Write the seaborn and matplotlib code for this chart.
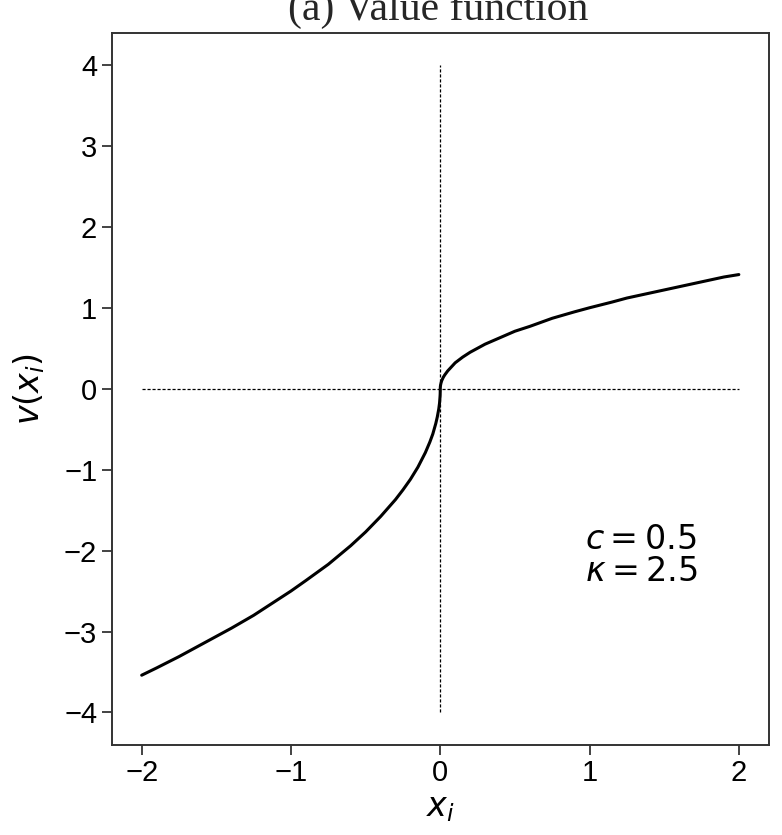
import matplotlib
matplotlib.use("Agg")
import matplotlib.pyplot as plt
import seaborn as sns
import pandas as pd

# value function (gains side and losses side)
x_gain = [0.0, 0.0005, 0.001, 0.002, 0.005, 0.01, 0.02, 0.03, 0.05, 0.07, 0.1, 0.15, 0.2, 0.25, 0.3, 0.4,
          0.5, 0.6, 0.75, 0.9, 1.0, 1.15, 1.25, 1.4, 1.5, 1.65, 1.75, 1.9, 2.0]
v_gain = [0.0, 0.02, 0.03, 0.045, 0.07, 0.10, 0.14, 0.17, 0.22, 0.26, 0.32, 0.39, 0.45, 0.50, 0.55, 0.63,
          0.71, 0.77, 0.87, 0.95, 1.0, 1.07, 1.12, 1.18, 1.22, 1.28, 1.32, 1.38, 1.41]
x_loss = [-2.0, -1.9, -1.75, -1.65, -1.5, -1.4, -1.25, -1.15, -1.0, -0.9, -0.75, -0.6, -0.5, -0.4, -0.3,
          -0.25, -0.2, -0.15, -0.1, -0.07, -0.05, -0.03, -0.02, -0.01, -0.005, -0.002, -0.001, -0.0005, 0.0]
v_loss = [-3.54, -3.45, -3.31, -3.21, -3.06, -2.96, -2.80, -2.68, -2.50, -2.37, -2.17, -1.94, -1.77, -1.58, -1.37,
          -1.25, -1.12, -0.97, -0.79, -0.66, -0.56, -0.43, -0.35, -0.25, -0.18, -0.11, -0.08, -0.06, 0.0]

c_val = 0.5
kappa = 2.5

sns.set_style("ticks")
plt.rcParams['font.family'] = ['Liberation Sans', 'DejaVu Sans']
plt.rcParams['mathtext.fontset'] = 'dejavusans'

df = pd.DataFrame({"x": x_loss + x_gain[1:], "v": v_loss + v_gain[1:]})

fig = plt.figure(figsize=(7.82, 8.35), dpi=100)
ax = fig.add_axes([0.143, 0.108, 0.84, 0.853])

# reference lines
ax.plot([-2, 2], [0, 0], color="black", lw=0.9, linestyle=(0, (2.5, 1.5)))
ax.plot([0, 0], [-4, 4], color="black", lw=0.9, linestyle=(0, (2.5, 1.5)))

sns.lineplot(data=df, x="x", y="v", sort=False, color="black", lw=2.2, ax=ax)

ax.set_xlim(-2.2, 2.2)
ax.set_ylim(-4.4, 4.4)
ax.set_xticks([-2, -1, 0, 1, 2])
ax.set_yticks([-4, -3, -2, -1, 0, 1, 2, 3, 4])
ax.tick_params(labelsize=21, length=7, width=1.2, color="#222222", labelcolor="black")
for sp in ax.spines.values():
    sp.set_linewidth(1.4)
    sp.set_color("#333333")

ax.set_xlabel(r"$x_i$", fontsize=24, labelpad=4, color="black")
ax.set_ylabel(r"$v(x_i)$", fontsize=24, labelpad=12, color="black")

ax.text(0.72, 0.264, f"$c = {c_val}$\n$\\kappa = {kappa}$", transform=ax.transAxes,
        fontsize=24, va="center", ha="left", linespacing=1.05, color="black")

fig.text(0.56, 0.976, "(a) Value function", family="Liberation Serif",
         fontsize=30, ha="center", va="baseline")

fig.savefig("out.png", dpi=100)
